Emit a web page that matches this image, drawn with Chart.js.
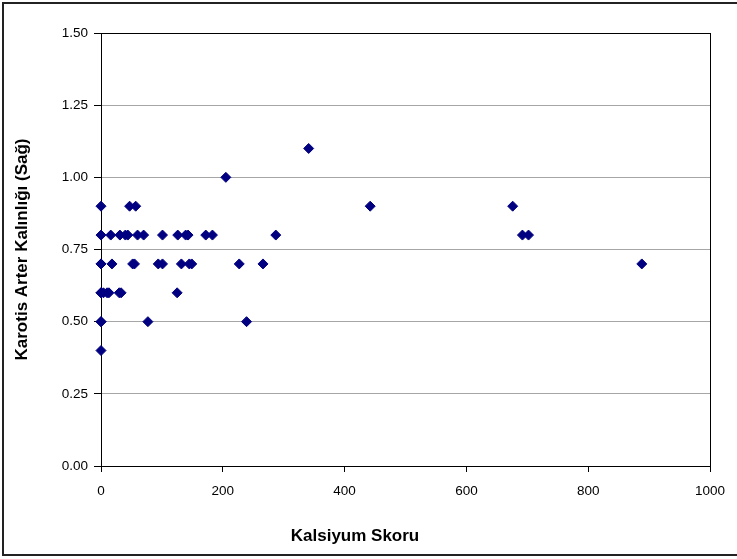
<!DOCTYPE html>
<html lang="tr">
<head>
  <meta charset="UTF-8">
  <title>Kalsiyum Skoru - Karotis Arter Kalınlığı</title>
  <script src="https://cdn.jsdelivr.net/npm/chart.js"></script>
  <style>
    html, body { margin: 0; padding: 0; background: #fff; }
    canvas { display: block; }
  </style>
</head>
<body>

<canvas id="grafik" width="737" height="559"></canvas>

<script>
  // === Veriler (her nokta: kalsiyum skoru, karotis kalınlığı) ===
  const kalsiyum = [
    0,
    0, 0, 77, 239,
    0, 0, 4, 10, 13, 30, 33, 125,
    0, 0, 18, 52, 55, 94, 101, 132, 145, 149, 227, 266, 888,
    0, 16, 31, 40, 44, 60, 70, 101, 126, 139, 143, 172, 183, 287, 692, 702,
    0, 47, 57, 442, 676,
    205,
    341
  ];
  const kalinlik = [
    0.4,
    0.5, 0.5, 0.5, 0.5,
    0.6, 0.6, 0.6, 0.6, 0.6, 0.6, 0.6, 0.6,
    0.7, 0.7, 0.7, 0.7, 0.7, 0.7, 0.7, 0.7, 0.7, 0.7, 0.7, 0.7, 0.7,
    0.8, 0.8, 0.8, 0.8, 0.8, 0.8, 0.8, 0.8, 0.8, 0.8, 0.8, 0.8, 0.8, 0.8, 0.8, 0.8,
    0.9, 0.9, 0.9, 0.9, 0.9,
    1.0,
    1.1
  ];
  const xTikler = [0, 200, 400, 600, 800, 1000];
  const yTikler = [0, 0.25, 0.5, 0.75, 1.0, 1.25, 1.5];

  const noktalar = kalsiyum.map((x, i) => ({ x: x, y: kalinlik[i] }));

  const yazi = "'Liberation Sans', Arial, sans-serif";

  // çizim alanı çerçevesi + dış kenarlık
  const cerceve = {
    id: 'cerceve',
    beforeDatasetsDraw(chart) {
      const { ctx, chartArea: a } = chart;
      ctx.save();
      ctx.strokeStyle = '#000';
      ctx.lineWidth = 1;
      ctx.strokeRect(Math.round(a.left) + 0.5, Math.round(a.top) + 0.5,
                     Math.round(a.right - a.left), Math.round(a.bottom - a.top));
      ctx.restore();
    },
    afterDraw(chart) {
      const ctx = chart.ctx;
      ctx.save();
      ctx.strokeStyle = '#222';
      ctx.lineWidth = 2;
      ctx.beginPath();
      ctx.moveTo(740, 3);
      ctx.lineTo(3, 3);
      ctx.lineTo(3, 555);
      ctx.lineTo(740, 555);
      ctx.stroke();
      ctx.restore();
    }
  };

  new Chart(document.getElementById('grafik'), {
    type: 'scatter',
    data: {
      datasets: [{
        label: 'Karotis Arter Kalınlığı (Sağ)',
        data: noktalar,
        pointStyle: 'rectRot',
        pointRadius: 5,
        pointBorderWidth: 1,
        backgroundColor: '#000080',
        borderColor: '#000080'
      }]
    },
    options: {
      responsive: false,
      animation: false,
      clip: false,
      layout: { padding: { top: 33, right: 27, left: 0, bottom: 0 } },
      plugins: {
        legend: { display: false },
        tooltip: { enabled: false },
        title: {
          display: true,
          position: 'bottom',
          text: 'Kalsiyum Skoru',
          color: '#000',
          font: { family: yazi, size: 17, weight: 'bold' },
          padding: { top: 0, bottom: 12 }
        }
      },
      scales: {
        x: {
          type: 'linear',
          min: 0,
          max: 1000,
          afterBuildTicks: s => { s.ticks = xTikler.map(v => ({ value: v })); },
          afterFit: s => { s.height = 60.6; },
          grid: { drawOnChartArea: false, color: '#000', tickLength: 6 },
          border: { color: '#000' },
          ticks: {
            color: '#000',
            font: { family: yazi, size: 13.5 },
            padding: 11,
            maxRotation: 0,
            callback: v => String(v)
          }
        },
        y: {
          min: 0,
          max: 1.5,
          afterBuildTicks: s => { s.ticks = yTikler.map(v => ({ value: v })); },
          afterFit: s => { s.width = 101; },
          grid: { color: '#a6a6a6', tickColor: '#000', tickLength: 7 },
          border: { color: '#000' },
          ticks: {
            color: '#000',
            font: { family: yazi, size: 13.5 },
            padding: 6,
            callback: v => Number(v).toFixed(2)
          },
          title: {
            display: true,
            text: 'Karotis Arter Kalınlığı (Sağ)',
            color: '#000',
            font: { family: yazi, size: 17, weight: 'bold' },
            padding: { top: 12, bottom: 0 }
          }
        }
      }
    },
    plugins: [cerceve]
  });
</script>

</body>
</html>
